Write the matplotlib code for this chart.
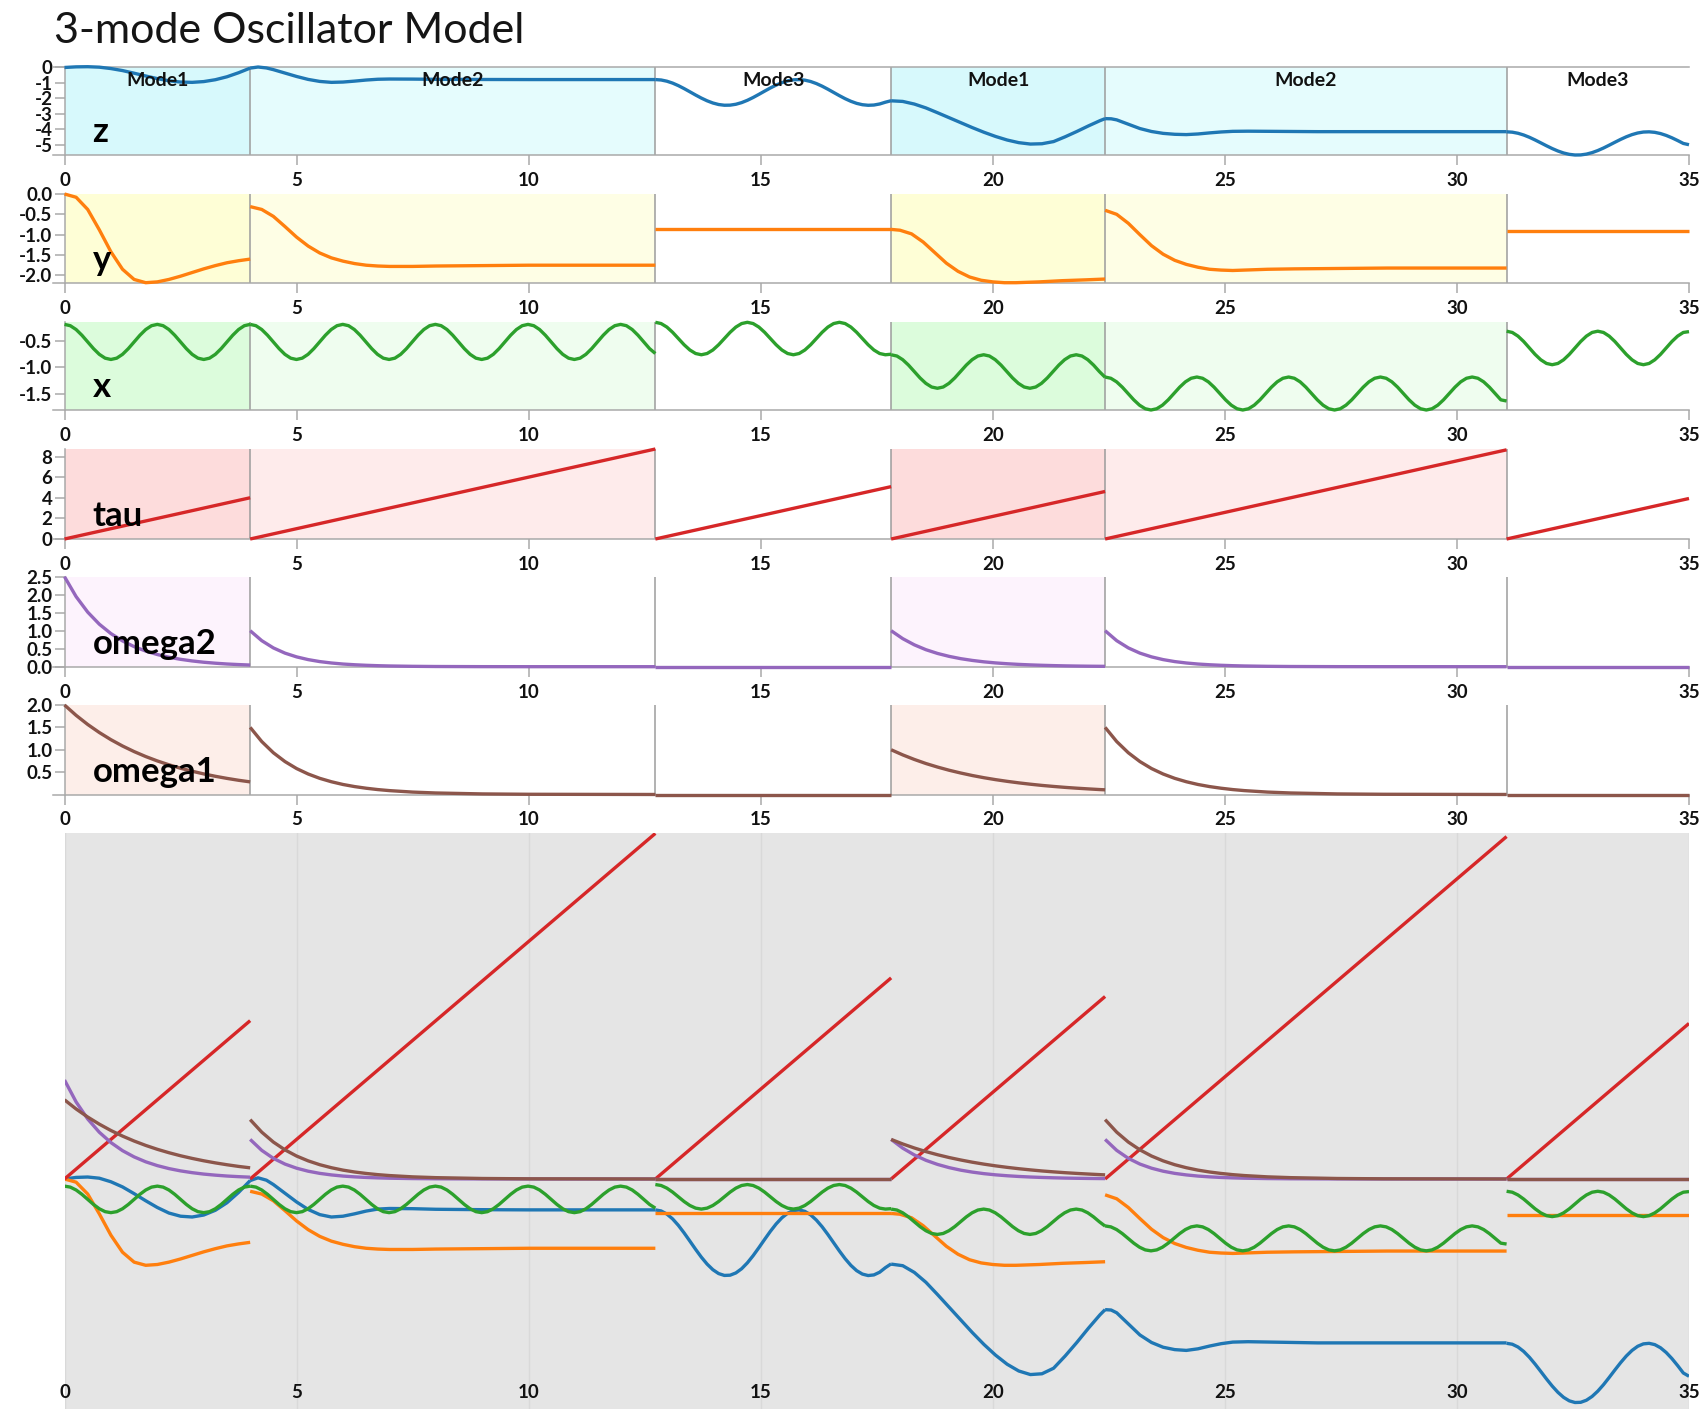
import numpy as np
import matplotlib
matplotlib.use("Agg")
import matplotlib.pyplot as plt

plt.rcParams["font.family"] = ["Lato", "DejaVu Sans"]

W, H, DPI = 1707, 1409, 100

# ---------------------------------------------------------------- data
mode_names = ["Mode1", "Mode2", "Mode3", "Mode1", "Mode2", "Mode3"]
mode_start = [0.0, 4.0, 12.73, 17.81, 22.42, 31.07]
mode_end = [4.0, 12.73, 17.81, 22.42, 31.07, 35.0]

# tau restarts at 0 in each mode and climbs to these values
tau_end = [4.0, 8.73, 5.08, 4.61, 8.65, 3.93]

# x: samples spread evenly over each mode
x_vals = [
    [-0.180, -0.205, -0.278, -0.387, -0.515, -0.643, -0.752, -0.825, -0.850, -0.825, -0.752, -0.643, -0.515, -0.387, -0.278, -0.205,
     -0.180, -0.205, -0.278, -0.387, -0.515, -0.643, -0.752, -0.825, -0.850, -0.825, -0.752, -0.643, -0.515, -0.387, -0.278, -0.205,
     -0.180],
    [-0.180, -0.205, -0.278, -0.387, -0.515, -0.643, -0.752, -0.825, -0.850, -0.825, -0.752, -0.643, -0.515, -0.387, -0.278, -0.205,
     -0.180, -0.205, -0.278, -0.387, -0.515, -0.643, -0.752, -0.825, -0.850, -0.825, -0.752, -0.643, -0.515, -0.387, -0.278, -0.205,
     -0.180, -0.205, -0.278, -0.387, -0.515, -0.643, -0.752, -0.825, -0.850, -0.825, -0.752, -0.643, -0.515, -0.387, -0.278, -0.205,
     -0.180, -0.205, -0.278, -0.387, -0.515, -0.643, -0.752, -0.825, -0.850, -0.825, -0.752, -0.643, -0.515, -0.387, -0.278, -0.205,
     -0.180, -0.205, -0.278, -0.387, -0.515, -0.643, -0.736],
    [-0.140, -0.164, -0.231, -0.331, -0.450, -0.569, -0.669, -0.736, -0.760, -0.736, -0.669, -0.569, -0.450, -0.331, -0.231, -0.164,
     -0.140, -0.164, -0.231, -0.331, -0.450, -0.569, -0.669, -0.736, -0.760, -0.736, -0.669, -0.569, -0.450, -0.331, -0.231, -0.164,
     -0.140, -0.164, -0.231, -0.331, -0.450, -0.569, -0.669, -0.736, -0.760, -0.750],
    [-0.760, -0.784, -0.854, -0.957, -1.080, -1.203, -1.306, -1.376, -1.400, -1.376, -1.306, -1.203, -1.080, -0.957, -0.854, -0.784,
     -0.760, -0.784, -0.854, -0.957, -1.080, -1.203, -1.306, -1.376, -1.400, -1.376, -1.306, -1.203, -1.080, -0.957, -0.854, -0.784,
     -0.760, -0.784, -0.854, -0.957, -1.080, -1.190],
    [-1.185, -1.209, -1.277, -1.379, -1.500, -1.621, -1.723, -1.791, -1.815, -1.791, -1.723, -1.621, -1.500, -1.379, -1.277, -1.209,
     -1.185, -1.209, -1.277, -1.379, -1.500, -1.621, -1.723, -1.791, -1.815, -1.791, -1.723, -1.621, -1.500, -1.379, -1.277, -1.209,
     -1.185, -1.209, -1.277, -1.379, -1.500, -1.621, -1.723, -1.791, -1.815, -1.791, -1.723, -1.621, -1.500, -1.379, -1.277, -1.209,
     -1.185, -1.209, -1.277, -1.379, -1.500, -1.621, -1.723, -1.791, -1.815, -1.791, -1.723, -1.621, -1.500, -1.379, -1.277, -1.209,
     -1.185, -1.209, -1.277, -1.379, -1.500, -1.621, -1.643],
    [-0.310, -0.334, -0.404, -0.507, -0.630, -0.753, -0.856, -0.926, -0.950, -0.926, -0.856, -0.753, -0.630, -0.507, -0.404, -0.334,
     -0.310, -0.334, -0.404, -0.507, -0.630, -0.753, -0.856, -0.926, -0.950, -0.926, -0.856, -0.753, -0.630, -0.507, -0.404, -0.334,
     -0.318],
]

# z: a None time list means the samples are spread evenly over that mode
z_t = [
    [0.0, 0.25, 0.5, 0.75, 1.0, 1.25, 1.5, 1.75, 2.0, 2.25, 2.5, 2.75, 3.0, 3.25, 3.5, 3.75, 4.0],
    [4.0, 4.17, 4.35, 4.5, 4.75, 5.0, 5.25, 5.5, 5.75, 6.0, 6.25, 6.5, 6.75, 7.0, 7.5, 8.0, 9.0, 10.0, 12.73],
    None,
    [17.81, 18.06, 18.31, 18.56, 18.81, 19.06, 19.31, 19.56, 19.81, 20.06, 20.31, 20.56, 20.81, 21.06, 21.31,
     21.56, 21.81, 22.06, 22.31, 22.42],
    [22.42, 22.55, 22.67, 22.92, 23.17, 23.42, 23.67, 23.92, 24.17, 24.42, 24.67, 24.92, 25.17, 25.5, 26.0,
     27.0, 28.0, 31.07],
    None,
]
z_v = [
    [0.0, 0.04, 0.05, 0.02, -0.07, -0.20, -0.37, -0.55, -0.72, -0.86, -0.94, -0.96, -0.91, -0.79, -0.60, -0.34, -0.04],
    [-0.04, 0.03, -0.03, -0.14, -0.36, -0.58, -0.77, -0.90, -0.96, -0.94, -0.88, -0.81, -0.76, -0.745, -0.75, -0.765,
     -0.775, -0.78, -0.78],
    [-0.780, -0.807, -0.885, -1.008, -1.171, -1.362, -1.568, -1.777, -1.975, -2.150, -2.291, -2.389, -2.436, -2.430,
     -2.373, -2.267, -2.118, -1.937, -1.735, -1.526, -1.322, -1.136, -0.980, -0.865, -0.797, -0.781, -0.818, -0.905,
     -1.038, -1.207, -1.402, -1.610, -1.818, -2.013, -2.182, -2.315, -2.402, -2.439, -2.423, -2.355, -2.240, -2.144],
    [-2.15, -2.19, -2.36, -2.61, -2.92, -3.24, -3.56, -3.88, -4.18, -4.45, -4.68, -4.85, -4.94, -4.92, -4.78,
     -4.47, -4.13, -3.77, -3.43, -3.30],
    [-3.30, -3.31, -3.38, -3.66, -3.94, -4.13, -4.25, -4.31, -4.33, -4.29, -4.22, -4.16, -4.12, -4.11, -4.12,
     -4.14, -4.14, -4.14],
    [-4.150, -4.174, -4.244, -4.356, -4.503, -4.676, -4.862, -5.051, -5.230, -5.388, -5.516, -5.604, -5.646, -5.641,
     -5.589, -5.493, -5.359, -5.196, -5.013, -4.824, -4.640, -4.472, -4.331, -4.226, -4.165, -4.151, -4.184, -4.263,
     -4.383, -4.536, -4.712, -4.900, -4.983],
]

y_t = [
    [0.0, 0.25, 0.5, 0.75, 1.0, 1.25, 1.5, 1.75, 2.0, 2.25, 2.5, 2.75, 3.0, 3.25, 3.5, 3.75, 4.0],
    [4.0, 4.25, 4.5, 4.75, 5.0, 5.25, 5.5, 5.75, 6.0, 6.25, 6.5, 6.75, 7.0, 7.5, 8.0, 9.0, 10.0, 11.0, 12.73],
    [12.73, 17.81],
    [17.81, 18.0, 18.25, 18.5, 18.75, 19.0, 19.25, 19.5, 19.75, 20.0, 20.25, 20.5, 21.0, 21.5, 22.0, 22.42],
    [22.42, 22.67, 22.92, 23.17, 23.42, 23.67, 23.92, 24.17, 24.42, 24.67, 24.92, 25.17, 25.42, 25.92, 26.5,
     27.5, 28.5, 31.07],
    [31.07, 35.0],
]
y_v = [
    [0.0, -0.08, -0.38, -0.88, -1.42, -1.85, -2.10, -2.18, -2.16, -2.10, -2.02, -1.93, -1.84, -1.76, -1.69, -1.64, -1.60],
    [-0.31, -0.38, -0.55, -0.80, -1.06, -1.28, -1.45, -1.57, -1.65, -1.71, -1.75, -1.77, -1.78, -1.78, -1.77,
     -1.76, -1.75, -1.75, -1.75],
    [-0.87, -0.87],
    [-0.87, -0.89, -0.98, -1.18, -1.44, -1.70, -1.90, -2.04, -2.12, -2.16, -2.18, -2.18, -2.16, -2.13, -2.11, -2.09],
    [-0.40, -0.50, -0.72, -1.00, -1.27, -1.48, -1.63, -1.73, -1.80, -1.85, -1.87, -1.88, -1.87, -1.85, -1.84,
     -1.83, -1.82, -1.82],
    [-0.91, -0.91],
]

omega2_t = [
    None,
    [4.0, 4.25, 4.5, 4.75, 5.0, 5.25, 5.5, 5.75, 6.0, 6.25, 6.5, 6.75, 7.0, 7.5, 8.0, 9.0, 10.0, 12.73],
    [12.73, 17.81],
    [17.81, 18.06, 18.31, 18.56, 18.81, 19.06, 19.31, 19.56, 19.81, 20.06, 20.31, 20.56, 20.81, 21.06, 21.31,
     21.56, 21.81, 22.06, 22.31, 22.42],
    [22.42, 22.67, 22.92, 23.17, 23.42, 23.67, 23.92, 24.17, 24.42, 24.67, 24.92, 25.17, 25.42, 25.92, 26.42,
     27.42, 28.42, 31.07],
    [31.07, 35.0],
]
omega2_v = [
    [2.5, 1.947, 1.516, 1.181, 0.920, 0.716, 0.558, 0.434, 0.338, 0.263, 0.205, 0.160, 0.124, 0.097, 0.075, 0.059, 0.046],
    [1.0, 0.723, 0.522, 0.377, 0.273, 0.197, 0.142, 0.103, 0.074, 0.054, 0.039, 0.028, 0.020, 0.0106, 0.0055,
     0.0015, 0.0004, 0.0],
    [0.0, 0.0],
    [1.0, 0.779, 0.607, 0.472, 0.368, 0.287, 0.223, 0.174, 0.135, 0.105, 0.082, 0.064, 0.050, 0.039, 0.030,
     0.023, 0.018, 0.014, 0.011, 0.010],
    [1.0, 0.723, 0.522, 0.377, 0.273, 0.197, 0.142, 0.103, 0.074, 0.054, 0.039, 0.028, 0.020, 0.0106, 0.0055,
     0.0015, 0.0004, 0.0],
    [0.0, 0.0],
]

omega1_t = [
    None,
    [4.0, 4.25, 4.5, 4.75, 5.0, 5.25, 5.5, 5.75, 6.0, 6.25, 6.5, 6.75, 7.0, 7.5, 8.0, 9.0, 10.0, 12.73],
    [12.73, 17.81],
    [17.81, 18.06, 18.31, 18.56, 18.81, 19.06, 19.31, 19.56, 19.81, 20.06, 20.31, 20.56, 20.81, 21.06, 21.31,
     21.56, 21.81, 22.06, 22.31, 22.42],
    [22.42, 22.67, 22.92, 23.17, 23.42, 23.67, 23.92, 24.17, 24.42, 24.67, 24.92, 25.17, 25.42, 25.92, 26.42,
     27.42, 28.42, 31.07],
    [31.07, 35.0],
]
omega1_v = [
    [2.0, 1.769, 1.565, 1.385, 1.225, 1.084, 0.959, 0.848, 0.750, 0.664, 0.587, 0.520, 0.460, 0.407, 0.360, 0.318, 0.282],
    [1.5, 1.183, 0.933, 0.736, 0.580, 0.458, 0.361, 0.285, 0.224, 0.177, 0.140, 0.110, 0.087, 0.054, 0.034,
     0.013, 0.005, 0.0004],
    [0.0, 0.0],
    [1.0, 0.885, 0.783, 0.692, 0.613, 0.542, 0.480, 0.424, 0.375, 0.332, 0.294, 0.260, 0.230, 0.203, 0.180,
     0.159, 0.141, 0.125, 0.110, 0.1045],
    [1.5, 1.183, 0.933, 0.736, 0.580, 0.458, 0.361, 0.285, 0.224, 0.177, 0.140, 0.110, 0.087, 0.054, 0.034,
     0.013, 0.005, 0.0004],
    [0.0, 0.0],
]

x_ticks = [0, 5, 10, 15, 20, 25, 30, 35]

# ---------------------------------------------------------------- series
def segments(ts, vs):
    out = []
    for k, v in enumerate(vs):
        t = ts[k] if ts is not None and ts[k] is not None else np.linspace(mode_start[k], mode_end[k], len(v))
        out.append((np.asarray(t, dtype=float), np.asarray(v, dtype=float)))
    return out

tau_vals = [[0.0, te] for te in tau_end]

series = {
    "z": segments(z_t, z_v),
    "y": segments(y_t, y_v),
    "x": segments(None, x_vals),
    "tau": segments(None, tau_vals),
    "omega2": segments(omega2_t, omega2_v),
    "omega1": segments(omega1_t, omega1_v),
}
order = ["z", "y", "x", "tau", "omega2", "omega1"]
colors = {"z": "#1f77b4", "y": "#ff7f0e", "x": "#2ca02c", "tau": "#d62728",
          "omega2": "#9467bd", "omega1": "#8c564b"}

# background tint per mode (Mode1, Mode2); Mode3 is left white
tints = {
    "z": ("#d7f9fc", "#e5fcfd"),
    "y": ("#fefed6", "#fefee5"),
    "x": ("#dcfcdc", "#effdef"),
    "tau": ("#fddcdc", "#feebeb"),
    "omega2": ("#fdf3fd", None),
    "omega1": ("#fdeee9", None),
}

y_ticks = {
    "z": ([0, -1, -2, -3, -4, -5], ["0", "-1", "-2", "-3", "-4", "-5"]),
    "y": ([0.0, -0.5, -1.0, -1.5, -2.0], ["0.0", "-0.5", "-1.0", "-1.5", "-2.0"]),
    "x": ([-0.5, -1.0, -1.5], ["-0.5", "-1.0", "-1.5"]),
    "tau": ([0, 2, 4, 6, 8], ["0", "2", "4", "6", "8"]),
    "omega2": ([0.0, 0.5, 1.0, 1.5, 2.0, 2.5], ["0.0", "0.5", "1.0", "1.5", "2.0", "2.5"]),
    "omega1": ([0.5, 1.0, 1.5, 2.0], ["0.5", "1.0", "1.5", "2.0"]),
}

# ---------------------------------------------------------------- layout (pixels)
LEFT, RIGHT = 64.5, 1689.0
panel_px = {
    "z": (66.7, 155.0),
    "y": (194.0, 282.7),
    "x": (322.3, 410.0),
    "tau": (449.0, 539.0),
    "omega2": (576.7, 666.7),
    "omega1": (705.0, 794.5),
}
BIG_TOP, BIG_BOTTOM = 833.0, 1409.0

def rect(top, bottom):
    return [LEFT / W, 1 - bottom / H, (RIGHT - LEFT) / W, (bottom - top) / H]

AXIS_GRAY = "#a9a9a9"
LINE_W = 2.4
TICK_FS = 13.5

fig = plt.figure(figsize=(W / DPI, H / DPI), dpi=DPI)
fig.patch.set_facecolor("white")

fig.text(54 / W, 1 - 43 / H, "3-mode Oscillator Model", fontsize=31, fontweight="normal",
         color="#151515", va="baseline", ha="left")

for name in order:
    top, bottom = panel_px[name]
    ax = fig.add_axes(rect(top, bottom))
    ax.set_facecolor("white")
    segs = series[name]
    allv = np.concatenate([v for _, v in segs])
    ax.set_xlim(0, 35)
    ax.set_ylim(allv.min(), allv.max())

    for k, (s, e) in enumerate(zip(mode_start, mode_end)):
        idx = {"Mode1": 0, "Mode2": 1}.get(mode_names[k])
        if idx is not None and tints[name][idx]:
            ax.axvspan(s, e, color=tints[name][idx], lw=0, zorder=0)
    for b in mode_start[1:]:
        ax.axvline(b, color="#9c9c9c", lw=1.1, zorder=1)

    for t, v in segs:
        ax.plot(t, v, color=colors[name], lw=LINE_W, zorder=3, clip_on=False,
                solid_capstyle="butt", solid_joinstyle="round")

    ax.spines["right"].set_visible(False)
    ax.spines["top"].set_visible(name == "z")
    for side in ["left", "bottom", "top"]:
        ax.spines[side].set_color(AXIS_GRAY)
        ax.spines[side].set_linewidth(1.1)
        ax.spines[side].set_zorder(2)
    ax.spines["bottom"].set_bounds(-0.25, 35)
    ax.spines["top"].set_bounds(-0.25, 35)

    ax.set_xticks(x_ticks)
    ax.set_xticklabels([str(v) for v in x_ticks])
    ticks, labels = y_ticks[name]
    ax.set_yticks(ticks)
    ax.set_yticklabels(labels)
    ax.tick_params(axis="both", length=7.2, width=1.1, color=AXIS_GRAY, labelsize=TICK_FS,
                   labelcolor="#111111")
    ax.tick_params(axis="x", pad=5)
    ax.tick_params(axis="y", pad=1.5)
    for lab in ax.get_xticklabels() + ax.get_yticklabels():
        lab.set_fontweight("bold")

    fig.text(92.5 / W, 1 - (bottom - 13) / H, name, fontsize=25, fontweight="bold",
             color="black", va="baseline", ha="left", zorder=10)

    if name == "z":
        for k, (s, e) in enumerate(zip(mode_start, mode_end)):
            xm = LEFT + (RIGHT - LEFT) * ((s + e) / 2) / 35
            fig.text(xm / W, 1 - 86.5 / H, mode_names[k], fontsize=14, fontweight="bold",
                     color="#111111", va="baseline", ha="center", zorder=10)

# combined view of every series
ax = fig.add_axes(rect(BIG_TOP, BIG_BOTTOM))
ax.set_facecolor("#e5e5e5")
ax.set_xlim(0, 35)
ax.set_ylim(-5.81, 8.74)
for sp in ax.spines.values():
    sp.set_visible(False)
ax.set_yticks([])
ax.set_xticks(x_ticks)
ax.set_xticklabels([str(v) for v in x_ticks])
ax.tick_params(axis="x", length=0, pad=-18, labelsize=TICK_FS, labelcolor="#111111")
for lab in ax.get_xticklabels():
    lab.set_fontweight("bold")
ax.grid(axis="x", color="#d9d9d9", lw=1.0, zorder=0)
ax.set_axisbelow(True)
for name in order:
    for t, v in series[name]:
        ax.plot(t, v, color=colors[name], lw=LINE_W, zorder=3, solid_capstyle="butt",
                solid_joinstyle="round")

fig.savefig("out.png", dpi=DPI, facecolor="white")
